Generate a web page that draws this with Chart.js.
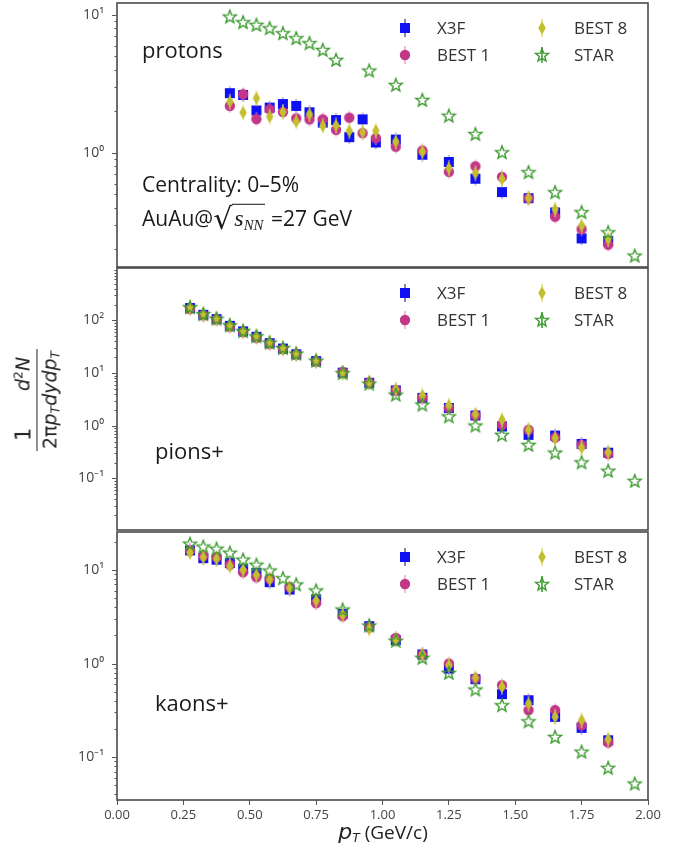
<!DOCTYPE html>
<html>
<head>
<meta charset="utf-8">
<script src="https://cdn.jsdelivr.net/npm/chart.js@4.4.1/dist/chart.umd.min.js"></script>
<style>
  html, body { margin: 0; padding: 0; background: #fff; }
  #wrap { position: relative; width: 694px; height: 853px; overflow: hidden; font-family: 'Open Sans', sans-serif; color: #1a1a1a; }
  canvas { position: absolute; left: 0; }
  .lbl { position: absolute; white-space: nowrap; transform: translateY(-50%); }
  .ytitle { position: absolute; left: 37px; top: 400px; transform: translate(-50%, -50%) rotate(-90deg); white-space: nowrap; font-family: 'DejaVu Sans', sans-serif; font-size: 19px; color: #222; }
  .frac { display: inline-flex; flex-direction: column; align-items: stretch; }
  .num { display: flex; justify-content: space-between; padding: 0 8px 1px 10px; }
  .num .one { font-size: 21px; }
  .den { border-top: 1.4px solid #222; padding: 1px 2px 0 2px; }
  .ytitle sub, .xtitle sub { font-size: 0.65em; vertical-align: -0.25em; }
  .ytitle sup { font-size: 0.65em; vertical-align: 0.55em; }
  .sq { font-family: 'DejaVu Sans', sans-serif; font-size: 30px; position: relative; top: 3px; }
  .ol { border-top: 1.3px solid #111; font-family: 'Liberation Serif', serif; font-style: italic; font-size: 24px; padding: 0 2px; }
  .ol sub { font-size: 0.62em; vertical-align: -0.3em; }
  .xtitle { position: absolute; left: 383px; top: 833px; transform: translate(-50%, -50%); white-space: nowrap; font-size: 19px; color: #222; }
</style>
</head>
<body>
<div id="wrap">
  <canvas id="cProtons" width="694" height="270" style="top:0px"></canvas>
  <canvas id="cPions" width="694" height="268" style="top:265px"></canvas>
  <canvas id="cKaons" width="694" height="324" style="top:529px"></canvas>

  <div class="lbl" style="left:142px; top:49px; font-size:22px;">protons</div>
  <div class="lbl" style="left:142px; top:184px; font-size:21px;">Centrality: 0–5%</div>
  <div class="lbl" style="left:142px; top:216px; font-size:21px;">AuAu@<span class="sq">√</span><span class="ol">s<sub>NN</sub></span> =27 GeV</div>
  <div class="lbl" style="left:155px; top:450px; font-size:22px;">pions+</div>
  <div class="lbl" style="left:155px; top:702px; font-size:22px;">kaons+</div>

  <div class="ytitle">
    <span class="frac">
      <span class="num"><span class="one">1</span><span><i>d</i><sup>2</sup><i>N</i></span></span>
      <span class="den">2π<i>p</i><sub><i>T</i></sub><i>dydp</i><sub><i>T</i></sub></span>
    </span>
  </div>
  <div class="xtitle"><i style="font-family:'DejaVu Sans',sans-serif;font-size:22px;">p</i><sub><i style="font-family:'DejaVu Sans',sans-serif;">T</i></sub> (GeV/c)</div>
</div>

<script>
// ---- data ----
const seriesLabels = ['X3F', 'BEST 1', 'BEST 8', 'STAR'];
const xTicks = [0, 0.25, 0.5, 0.75, 1.0, 1.25, 1.5, 1.75, 2.0];

// protons
const protonModelPt = [0.425, 0.475, 0.525, 0.575, 0.625, 0.675, 0.725, 0.775, 0.825, 0.875, 0.925, 0.975,
  1.05, 1.15, 1.25, 1.35, 1.45, 1.55, 1.65, 1.75, 1.85];
const protonX3F = [2.71, 2.63, 2.03, 2.13, 2.26, 2.19, 1.97, 1.66, 1.73, 1.30, 1.75, 1.19,
  1.25, 0.97, 0.86, 0.65, 0.52, 0.47, 0.37, 0.24, 0.23];
const protonBest1 = [2.19, 2.66, 1.76, 2.07, 1.98, 1.78, 1.75, 1.75, 1.47, 1.80, 1.39, 1.28,
  1.11, 1.04, 0.73, 0.80, 0.67, 0.47, 0.345, 0.28, 0.216];
const protonBest8 = [2.35, 1.96, 2.49, 1.83, 1.98, 1.69, 1.91, 1.57, 1.58, 1.44, 1.41, 1.45,
  1.21, 1.02, 0.775, 0.713, 0.645, 0.47, 0.39, 0.297, 0.237];
const protonStarPt = [0.425, 0.475, 0.525, 0.575, 0.625, 0.675, 0.725, 0.775, 0.825, 0.95,
  1.05, 1.15, 1.25, 1.35, 1.45, 1.55, 1.65, 1.75, 1.85, 1.95];
const protonStar = [9.72, 8.85, 8.47, 8.01, 7.37, 6.78, 6.24, 5.58, 4.72, 3.95,
  3.11, 2.42, 1.86, 1.37, 1.01, 0.725, 0.519, 0.372, 0.266, 0.180];

// pions+
const pionModelPt = [0.275, 0.325, 0.375, 0.425, 0.475, 0.525, 0.575, 0.625, 0.675, 0.75, 0.85, 0.95,
  1.05, 1.15, 1.25, 1.35, 1.45, 1.55, 1.65, 1.75, 1.85];
const pionX3F = [172, 128, 106, 79, 62, 49, 37, 29.3, 22.8, 16.9, 10.2, 6.55,
  4.7, 3.39, 2.18, 1.57, 0.97, 0.673, 0.653, 0.453, 0.309];
const pionBest1 = [165, 125, 104, 76, 60, 47, 36, 28.5, 22.5, 16.5, 10.5, 6.6,
  4.7, 3.39, 2.18, 1.57, 1.04, 0.838, 0.598, 0.433, 0.292];
const pionBest8 = [175, 130, 108, 80, 63, 50, 37.5, 29.5, 23, 17.2, 10.0, 6.7,
  4.9, 3.75, 2.44, 1.65, 1.30, 0.838, 0.582, 0.385, 0.314];
const pionStarPt = [0.275, 0.325, 0.375, 0.425, 0.475, 0.525, 0.575, 0.625, 0.675, 0.75, 0.85, 0.95,
  1.05, 1.15, 1.25, 1.35, 1.45, 1.55, 1.65, 1.75, 1.85, 1.95];
const pionStar = [178, 132, 108, 81, 63, 50, 38, 30, 23.5, 17.2, 10.0, 6.3,
  3.9, 2.52, 1.51, 1.01, 0.673, 0.433, 0.309, 0.202, 0.140, 0.090];

// kaons+
const kaonModelPt = [0.275, 0.325, 0.375, 0.425, 0.475, 0.525, 0.575, 0.65, 0.75, 0.85, 0.95,
  1.05, 1.15, 1.25, 1.35, 1.45, 1.55, 1.65, 1.75, 1.85];
const kaonX3F = [16.2, 13.4, 12.9, 11.9, 10.3, 9.33, 7.41, 6.18, 4.84, 3.40, 2.51,
  1.78, 1.25, 0.884, 0.679, 0.470, 0.405, 0.269, 0.205, 0.151];
const kaonBest1 = [16.2, 14.1, 13.7, 11.4, 9.47, 8.37, 8.05, 6.55, 4.42, 3.21, 2.44,
  1.88, 1.25, 1.0, 0.691, 0.586, 0.317, 0.317, 0.219, 0.143];
const kaonBest8 = [15.3, 13.7, 13.2, 11.0, 10.05, 8.89, 7.91, 6.45, 4.72, 3.32, 2.35,
  1.81, 1.25, 0.959, 0.703, 0.563, 0.373, 0.269, 0.248, 0.155];
const kaonStarPt = [0.275, 0.325, 0.375, 0.425, 0.475, 0.525, 0.575, 0.625, 0.675, 0.75, 0.85, 0.95,
  1.05, 1.15, 1.25, 1.35, 1.45, 1.55, 1.65, 1.75, 1.85, 1.95];
const kaonStar = [19.1, 17.8, 16.9, 15.3, 12.9, 11.4, 9.88, 8.17, 7.0, 6.04, 3.78, 2.55,
  1.75, 1.15, 0.795, 0.527, 0.358, 0.241, 0.164, 0.114, 0.0766, 0.052];

Chart.defaults.font.family = "'Open Sans', sans-serif";
Chart.defaults.color = '#444';

/**
 * Build a small canvas used as a point style (marker + faint error bar)
 */
function makeMarker(shape, color, barColor, barHalf) {
  const c = document.createElement('canvas');
  c.width = 18;
  c.height = Math.max(18, barHalf * 2 + 2);
  const g = c.getContext('2d');
  const cx = c.width / 2, cy = c.height / 2;
  if (barColor) {
    g.strokeStyle = barColor;
    g.lineWidth = 1.6;
    g.beginPath();
    g.moveTo(cx, cy - barHalf);
    g.lineTo(cx, cy + barHalf);
    g.stroke();
  }
  g.fillStyle = color;
  g.strokeStyle = color;
  if (shape === 'square') {
    g.fillRect(cx - 5, cy - 5, 10, 10);
  } else if (shape === 'circle') {
    g.beginPath();
    g.arc(cx, cy, 5.2, 0, Math.PI * 2);
    g.fill();
  } else if (shape === 'diamond') {
    g.beginPath();
    g.moveTo(cx, cy - 6.8);
    g.lineTo(cx + 3.7, cy);
    g.lineTo(cx, cy + 6.8);
    g.lineTo(cx - 3.7, cy);
    g.closePath();
    g.fill();
  } else if (shape === 'star') {
    g.lineWidth = 1.4;
    g.lineJoin = 'miter';
    g.beginPath();
    for (let i = 0; i < 10; i++) {
      const r = i % 2 === 0 ? 6.8 : 2.9;
      const a = -Math.PI / 2 + i * Math.PI / 5;
      const px = cx + r * Math.cos(a), py = cy + 0.5 + r * Math.sin(a);
      if (i === 0) g.moveTo(px, py); else g.lineTo(px, py);
    }
    g.closePath();
    g.stroke();
  }
  return c;
}

const COLORS = {
  x3f: '#1010f5',
  best1: '#c2378a',
  best8: '#c4bf2e',
  star: '#3c9a2f',
};

const dataMarkers = {
  x3f: makeMarker('square', COLORS.x3f, 'rgba(90,90,140,0.45)', 7),
  best1: makeMarker('circle', COLORS.best1, 'rgba(240,150,185,0.6)', 7),
  best8: makeMarker('diamond', COLORS.best8, 'rgba(230,225,120,0.6)', 8),
  star: makeMarker('star', COLORS.star, null, 0),
};
const legendMarkers = {
  x3f: makeMarker('square', COLORS.x3f, '#6a6f8a', 9),
  best1: makeMarker('circle', COLORS.best1, '#f4a6c4', 9),
  best8: makeMarker('diamond', COLORS.best8, '#e8e27a', 9),
  star: makeMarker('star', COLORS.star, COLORS.star, 8),
};

/**
 * Frame around the plot area
 */
const framePlugin = {
  id: 'frame',
  afterDraw(chart) {
    const { ctx, chartArea: a } = chart;
    ctx.save();
    ctx.strokeStyle = '#4a4a4a';
    ctx.lineWidth = 1.6;
    ctx.strokeRect(a.left, a.top, a.right - a.left, a.bottom - a.top);
    ctx.restore();
  },
};

/**
 * Major / minor tick marks on the log y axis
 */
const logTickPlugin = {
  id: 'logTicks',
  afterDraw(chart) {
    const y = chart.scales.y;
    const ctx = chart.ctx;
    const left = chart.chartArea.left;
    ctx.save();
    ctx.strokeStyle = '#555';
    ctx.lineWidth = 1;
    const lo = Math.floor(Math.log10(y.min));
    const hi = Math.ceil(Math.log10(y.max));
    for (let e = lo; e <= hi; e++) {
      for (let k = 1; k <= 9; k++) {
        const v = k * Math.pow(10, e);
        if (v < y.min || v > y.max) continue;
        const py = Math.round(y.getPixelForValue(v)) + 0.5;
        const len = k === 1 ? 5 : 2.5;
        ctx.beginPath();
        ctx.moveTo(left - len, py);
        ctx.lineTo(left, py);
        ctx.stroke();
      }
    }
    ctx.restore();
  },
};

/**
 * Two-column legend in the upper right of each panel
 */
const legendPlugin = {
  id: 'cornerLegend',
  afterDraw(chart) {
    const { ctx, chartArea: a } = chart;
    const entries = [
      { key: 'x3f', text: seriesLabels[0], col: 0, row: 0 },
      { key: 'best1', text: seriesLabels[1], col: 0, row: 1 },
      { key: 'best8', text: seriesLabels[2], col: 1, row: 0 },
      { key: 'star', text: seriesLabels[3], col: 1, row: 1 },
    ];
    ctx.save();
    ctx.font = "17px 'Open Sans', sans-serif";
    ctx.fillStyle = '#333';
    ctx.textBaseline = 'middle';
    for (const e of entries) {
      const mx = a.left + (e.col === 0 ? 288 : 425);
      const my = a.top + 25 + e.row * 27;
      const m = legendMarkers[e.key];
      ctx.drawImage(m, mx - m.width / 2, my - m.height / 2);
      ctx.fillText(e.text, mx + 32, my + 1);
    }
    ctx.restore();
  },
};

function pairs(xs, ys) {
  return xs.map((x, i) => ({ x: x, y: ys[i] }));
}

function superscript(n) {
  const map = { '-': '⁻', '0': '⁰', '1': '¹', '2': '²', '3': '³', '4': '⁴', '5': '⁵', '6': '⁶', '7': '⁷', '8': '⁸', '9': '⁹' };
  return String(n).split('').map(ch => map[ch]).join('');
}

/**
 * Create one panel
 */
function createPanel(canvasId, opts) {
  const ctx = document.getElementById(canvasId).getContext('2d');
  const showX = !!opts.showX;
  return new Chart(ctx, {
    type: 'scatter',
    data: {
      datasets: [
        { label: seriesLabels[0], data: pairs(opts.modelPt, opts.x3f), pointStyle: dataMarkers.x3f, pointRadius: 6, order: 4 },
        { label: seriesLabels[1], data: pairs(opts.modelPt, opts.best1), pointStyle: dataMarkers.best1, pointRadius: 6, order: 3 },
        { label: seriesLabels[2], data: pairs(opts.modelPt, opts.best8), pointStyle: dataMarkers.best8, pointRadius: 6, order: 2 },
        { label: seriesLabels[3], data: pairs(opts.starPt, opts.star), pointStyle: dataMarkers.star, pointRadius: 7, order: 1 },
      ],
    },
    options: {
      responsive: false,
      animation: false,
      events: [],
      layout: {
        autoPadding: false,
        padding: { top: 3, right: 46, bottom: showX ? 0 : 3, left: 0 },
      },
      plugins: {
        legend: { display: false },
        tooltip: { enabled: false },
      },
      scales: {
        x: {
          type: 'linear',
          min: 0,
          max: 2,
          display: showX,
          afterBuildTicks: (scale) => {
            scale.ticks = xTicks.map(v => ({ value: v }));
          },
          afterFit: (scale) => {
            scale.height = showX ? 53 : 0;
            scale.paddingLeft = 0;
            scale.paddingRight = 0;
          },
          grid: {
            display: true,
            drawOnChartArea: false,
            drawTicks: true,
            tickLength: 5,
            tickColor: '#555',
          },
          border: { display: false },
          ticks: {
            autoSkip: false,
            maxRotation: 0,
            padding: 2,
            color: '#444',
            font: { size: 13 },
            callback: (v) => Number(v).toFixed(2),
          },
        },
        y: {
          type: 'logarithmic',
          min: opts.yMin,
          max: opts.yMax,
          afterFit: (scale) => {
            scale.width = 117;
            scale.paddingTop = 0;
            scale.paddingBottom = 0;
          },
          grid: { display: false, drawTicks: false },
          border: { display: false },
          ticks: {
            autoSkip: false,
            padding: 13,
            color: '#444',
            font: { size: 14 },
            callback: (v) => {
              const l = Math.log10(v);
              const r = Math.round(l);
              if (Math.abs(l - r) < 1e-6) return '10' + superscript(r);
              return '';
            },
          },
        },
      },
    },
    plugins: [framePlugin, logTickPlugin, legendPlugin],
  });
}

createPanel('cProtons', {
  modelPt: protonModelPt, x3f: protonX3F, best1: protonBest1, best8: protonBest8,
  starPt: protonStarPt, star: protonStar, yMin: 0.149, yMax: 12.2,
});
createPanel('cPions', {
  modelPt: pionModelPt, x3f: pionX3F, best1: pionBest1, best8: pionBest8,
  starPt: pionStarPt, star: pionStar, yMin: 0.0105, yMax: 990,
});
createPanel('cKaons', {
  modelPt: kaonModelPt, x3f: kaonX3F, best1: kaonBest1, best8: kaonBest8,
  starPt: kaonStarPt, star: kaonStar, yMin: 0.0347, yMax: 25.5, showX: true,
});
</script>
</body>
</html>
